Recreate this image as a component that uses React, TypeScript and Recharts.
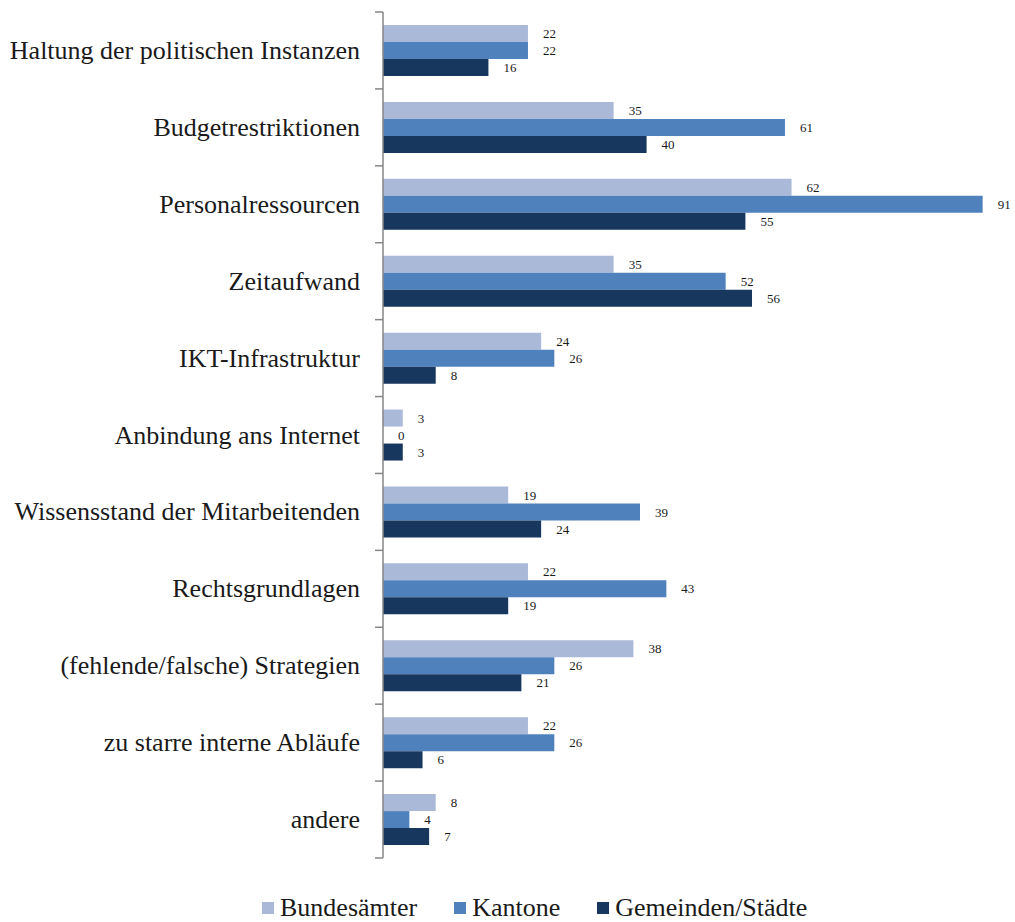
import React from "react";
import { BarChart, Bar, XAxis, YAxis, Legend, LabelList } from "recharts";

// categories, top to bottom
const categories = [
  "Haltung der politischen Instanzen",
  "Budgetrestriktionen",
  "Personalressourcen",
  "Zeitaufwand",
  "IKT-Infrastruktur",
  "Anbindung ans Internet",
  "Wissensstand der Mitarbeitenden",
  "Rechtsgrundlagen",
  "(fehlende/falsche) Strategien",
  "zu starre interne Abläufe",
  "andere",
];

const bundesaemter = [22, 35, 62, 35, 24, 3, 19, 22, 38, 22, 8];
const kantone = [22, 61, 91, 52, 26, 0, 39, 43, 26, 26, 4];
const gemeinden = [16, 40, 55, 56, 8, 3, 24, 19, 21, 6, 7];

const seriesNames = ["Bundesämter", "Kantone", "Gemeinden/Städte"];
const seriesColors = ["#aab9d8", "#4f81bd", "#17375e"];

const data = categories.map((name, i) => ({
  name,
  bund: bundesaemter[i],
  kant: kantone[i],
  gem: gemeinden[i],
}));

const FONT = "Liberation Serif, DejaVu Serif, serif";
const AXIS_GREY = "#868686";

const CategoryTick = (props: any) => {
  const { x, y, payload, index, visibleTicksCount, height } = props;
  const half =
    payload && payload.offset ? payload.offset : height / visibleTicksCount / 2;
  return (
    <g>
      <line x1={x - 8} x2={x} y1={y - half} y2={y - half} stroke={AXIS_GREY} strokeWidth={1.5} />
      {index === visibleTicksCount - 1 && (
        <line x1={x - 8} x2={x} y1={y + half} y2={y + half} stroke={AXIS_GREY} strokeWidth={1.5} />
      )}
      <text
        x={x - 23}
        y={y}
        textAnchor="end"
        dominantBaseline="central"
        style={{ fontFamily: FONT, fontSize: 26 }}
        fill="#1a1a1a"
      >
        {payload.value}
      </text>
    </g>
  );
};

const LegendContent = () => (
  <div
    style={{
      height: 30,
      display: "flex",
      alignItems: "center",
      paddingLeft: 262,
      fontFamily: FONT,
      fontSize: 26,
      color: "#1a1a1a",
    }}
  >
    {seriesNames.map((n, i) => (
      <div key={n} style={{ display: "flex", alignItems: "center", marginRight: 37 }}>
        <span
          style={{
            display: "inline-block",
            width: 12,
            height: 12,
            background: seriesColors[i],
            marginRight: 6,
          }}
        />
        <span>{n}</span>
      </div>
    ))}
  </div>
);

const App = () => {
  const labelStyle = { fontFamily: FONT, fontSize: 13, fill: "#1a1a1a" };
  return (
    <div style={{ position: "absolute", left: 0, top: 0, fontFamily: FONT }}>
      <BarChart
        width={1015}
        height={922}
        data={data}
        layout="vertical"
        margin={{ top: 12, right: 6, left: 0, bottom: 34 }}
        barCategoryGap={13}
        barGap={0}
      >
        <XAxis type="number" domain={[0, 95]} hide />
        <YAxis
          type="category"
          dataKey="name"
          width={383}
          tickSize={0}
          tickMargin={0}
          tickLine={false}
          axisLine={{ stroke: AXIS_GREY, strokeWidth: 1.5 }}
          tick={<CategoryTick />}
          interval={0}
        />
        <Legend
          verticalAlign="bottom"
          content={<LegendContent />}
          wrapperStyle={{ top: 893, left: 0, width: 1015 }}
        />
        <Bar dataKey="bund" name={seriesNames[0]} fill={seriesColors[0]} isAnimationActive={false}>
          <LabelList dataKey="bund" position="right" offset={15} style={labelStyle} />
        </Bar>
        <Bar
          dataKey="kant"
          name={seriesNames[1]}
          fill={seriesColors[1]}
          minPointSize={0.01}
          isAnimationActive={false}
        >
          <LabelList dataKey="kant" position="right" offset={15} style={labelStyle} />
        </Bar>
        <Bar dataKey="gem" name={seriesNames[2]} fill={seriesColors[2]} isAnimationActive={false}>
          <LabelList dataKey="gem" position="right" offset={15} style={labelStyle} />
        </Bar>
      </BarChart>
    </div>
  );
};

export default App;
